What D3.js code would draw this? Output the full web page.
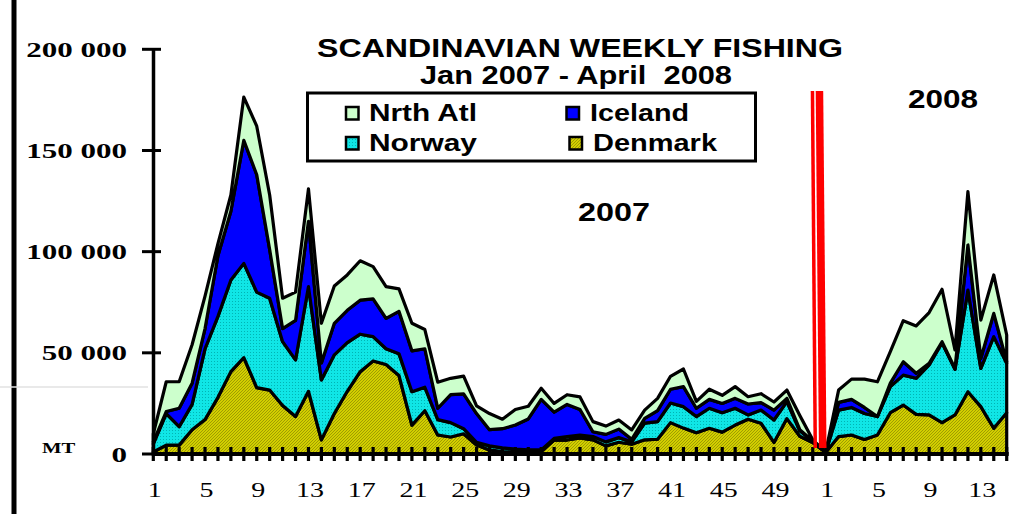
<!DOCTYPE html>
<html><head><meta charset="utf-8">
<script src="https://cdn.jsdelivr.net/npm/d3@7"></script>
<style>body{margin:0;background:#fff} svg{display:block}</style>
</head><body>
<svg id="chart" width="1030" height="514"></svg>
<script>
// Category labels: 2007 weeks 1-52, then 2008 weeks 1-15
const weekLabels = [1,2,3,4,5,6,7,8,9,10,11,12,13,14,15,16,17,18,19,20,21,22,23,24,25,26,27,28,29,30,31,32,33,34,35,36,37,38,39,40,41,42,43,44,45,46,47,48,49,50,51,52,1,2,3,4,5,6,7,8,9,10,11,12,13,14,15];

// Series values (metric tonnes), stacked bottom to top
const denmark = [1000,4400,4400,12000,17000,28000,40700,47600,32800,31600,24000,18500,31000,7000,20000,31000,40700,46000,44200,38800,14300,21400,9400,8400,10000,4400,2000,1200,1000,1000,1200,6900,6900,8000,7000,4000,5800,4800,7000,7300,15500,12800,10500,12700,10800,14300,17200,15200,5700,17500,8800,5700,700,8600,9400,7200,9400,20400,24200,19600,19300,15500,19300,30800,23400,12700,20400];
const norway = [4000,15600,9100,12500,35000,40000,45300,46600,47200,45400,31500,28000,51700,29600,29000,24000,18500,12000,7800,10800,16500,11600,7600,7100,2500,1400,2000,1800,1400,1000,800,800,1700,1400,1600,2000,2300,1200,8300,8700,9700,10600,8000,9900,9600,8300,2100,6500,11100,8400,2700,700,100,13100,13600,12800,9100,12900,14800,17800,24700,39500,22500,50200,18900,45300,24400];
const iceland = [1000,1000,9100,10500,10000,30000,34000,60800,58000,24000,6500,19500,32300,8400,15600,16000,16800,18700,15000,20900,20200,19000,5600,13800,17200,14200,8000,9500,11900,15300,25000,13000,15900,12600,2400,3700,4200,1300,2300,5400,6800,9900,4100,4400,4600,4900,5400,3700,4900,1600,500,100,100,3800,4000,3000,0,1700,6600,2500,800,500,500,22300,5000,11500,800];
const nrthAtl = [4000,14700,13100,19000,16000,6000,8000,21400,24000,27000,15000,14000,16000,19600,18400,17500,19500,15900,15700,11100,13600,9500,12900,8100,8800,3800,8000,4700,7700,6300,5500,4300,4800,6200,5000,4100,4500,4600,4100,6100,6400,8700,3400,5000,4000,5800,3600,4400,4000,4100,7000,500,100,6100,10000,14000,17200,15600,20300,23400,25100,25900,9100,26400,18900,19000,13200];

const seriesKeys = ["Denmark","Norway","Iceland","Nrth Atl"];
const yTickValues = [0,50000,100000,150000,200000];
const yTickLabels = ["0","50 000","100 000","150 000","200 000"];
const titleLines = ["SCANDINAVIAN WEEKLY FISHING","Jan 2007 - April  2008"];

const svg = d3.select("#chart");
const SANS = "'Liberation Sans', Arial, sans-serif";
const SERIF = "'Liberation Serif', 'Times New Roman', serif";

// frame artefacts
svg.append("line").attr("x1",14).attr("x2",14).attr("y1",0).attr("y2",514).attr("stroke","#000").attr("stroke-width",5);
svg.append("line").attr("x1",0).attr("x2",148).attr("y1",387).attr("y2",387).attr("stroke","#e2e2e2").attr("stroke-width",1.5);

const x = d3.scaleLinear().domain([0, weekLabels.length-1]).range([153.3, 1006.7]);
const y = d3.scaleLinear().domain([0, 200000]).range([454, 49.3]);

// patterns
const defs = svg.append("defs");
const pd = defs.append("pattern").attr("id","pDen").attr("patternUnits","userSpaceOnUse").attr("width",3).attr("height",3);
pd.append("rect").attr("width",3).attr("height",3).attr("fill","#d2cf00");
pd.append("path").attr("d","M-1,1 L1,-1 M0,3 L3,0 M2,4 L4,2").attr("stroke","#9a9600").attr("stroke-width",0.9);
const pn = defs.append("pattern").attr("id","pNor").attr("patternUnits","userSpaceOnUse").attr("width",3).attr("height",3);
pn.append("rect").attr("width",3).attr("height",3).attr("fill","#10e6e6");
pn.append("rect").attr("x",1).attr("y",1).attr("width",1).attr("height",1).attr("fill","#00b4b4");

const fills = {"Denmark":"url(#pDen)","Norway":"url(#pNor)","Iceland":"#0000ff","Nrth Atl":"#ccffcc"};

const rows = weekLabels.map((w,i)=>({"Denmark":denmark[i],"Norway":norway[i],"Iceland":iceland[i],"Nrth Atl":nrthAtl[i]}));
const stacked = d3.stack().keys(seriesKeys)(rows);
const area = d3.area().x((d,i)=>x(i)).y0(d=>y(d[0])).y1(d=>y(d[1]));

svg.append("g").selectAll("path").data(stacked).join("path")
  .attr("d", area)
  .attr("fill", d=>fills[d.key])
  .attr("stroke","#000").attr("stroke-width",3.2).attr("stroke-linejoin","round");

// X axis
const gx = svg.append("g");
gx.append("line").attr("x1",x(0)-1).attr("x2",x(weekLabels.length-1)+2).attr("y1",y(0)).attr("y2",y(0)).attr("stroke","#000").attr("stroke-width",4);
gx.selectAll("line.tk").data(weekLabels.map((w,i)=>i)).join("line").attr("class","tk")
  .attr("x1",i=>x(i)).attr("x2",i=>x(i)).attr("y1",y(0)-7).attr("y2",y(0)+7)
  .attr("stroke","#000").attr("stroke-width",3.2);
const labIdx = weekLabels.map((w,i)=>i).filter(i=>i%4===0);
gx.selectAll("g.lab").data(labIdx).join("g").attr("class","lab")
  .attr("transform",i=>`translate(${x(i)+1.5},497) scale(1.4,1)`)
  .append("text").attr("text-anchor","middle").attr("font-family",SERIF).attr("font-size",20).attr("fill","#000")
  .text(i=>weekLabels[i]);

// Y axis
const gy = svg.append("g");
gy.append("line").attr("x1",153.5).attr("x2",153.5).attr("y1",y(200000)).attr("y2",y(0)+2).attr("stroke","#000").attr("stroke-width",3.5);
gy.selectAll("line.tk").data(yTickValues).join("line").attr("class","tk")
  .attr("x1",142).attr("x2",161).attr("y1",d=>y(d)).attr("y2",d=>y(d))
  .attr("stroke","#000").attr("stroke-width",3);
gy.selectAll("g.lab").data(yTickValues).join("g").attr("class","lab")
  .attr("transform",d=>`translate(127,${y(d)+7.5}) scale(1.41,1)`)
  .append("text").attr("text-anchor","end").attr("font-family",SERIF).attr("font-weight","bold").attr("font-size",22).attr("fill","#000")
  .text((d,i)=>yTickLabels[i]);
svg.append("g").attr("transform","translate(42,452.7) scale(1.38,1)")
  .append("text").attr("font-family",SERIF).attr("font-weight","bold").attr("font-size",15).text("MT");

// Title
function fitText(sel, txt, xx, yy, size, len, anchor){
  return sel.append("text").attr("x",xx).attr("y",yy).attr("font-family",SANS).attr("font-weight","bold")
    .attr("font-size",size).attr("text-anchor",anchor||"start").attr("textLength",len).attr("lengthAdjust","spacingAndGlyphs")
    .attr("xml:space","preserve").style("white-space","pre").text(txt);
}
fitText(svg, titleLines[0], 580, 56.5, 25, 526, "middle");
fitText(svg, titleLines[1], 576, 83.5, 25, 312, "middle");

// Legend
const lg = svg.append("g");
lg.append("rect").attr("x",307.5).attr("y",93).attr("width",448).attr("height",68).attr("fill","#fff").attr("stroke","#000").attr("stroke-width",3);
const legendItems = [
  {key:"Nrth Atl", sx:346, sy:107, tx:369, ty:121, tl:108},
  {key:"Iceland", sx:566.5, sy:107, tx:590, ty:121, tl:99},
  {key:"Norway", sx:346, sy:137, tx:369, ty:151, tl:108},
  {key:"Denmark", sx:569.5, sy:137, tx:593, ty:151, tl:124}
];
legendItems.forEach(it=>{
  lg.append("rect").attr("x",it.sx).attr("y",it.sy).attr("width",12.5).attr("height",12.5)
    .attr("fill",fills[it.key]).attr("stroke","#000").attr("stroke-width",2.5);
  fitText(lg, it.key, it.tx, it.ty, 23, it.tl, "start");
});

// Year annotations
fitText(svg, "2007", 578, 221, 26, 72, "start");
fitText(svg, "2008", 908, 108, 26, 70, "start");

// Red year separator between week 52 (2007) and week 1 (2008)
const xs = x(51.5), yTop = y(179400), yBot = y(3000);
svg.append("path").attr("d",`M${xs-8.5},${yTop} L${xs-5},${yTop} L${xs-2.2},${yBot} L${xs-5.7},${yBot} Z`).attr("fill","#ff0000");
svg.append("path").attr("d",`M${xs-3.5},${yTop} L${xs+4},${yTop} L${xs+7.3},${yBot} L${xs-0.3},${yBot} Z`).attr("fill","#ff0000");
</script>
</body></html>
